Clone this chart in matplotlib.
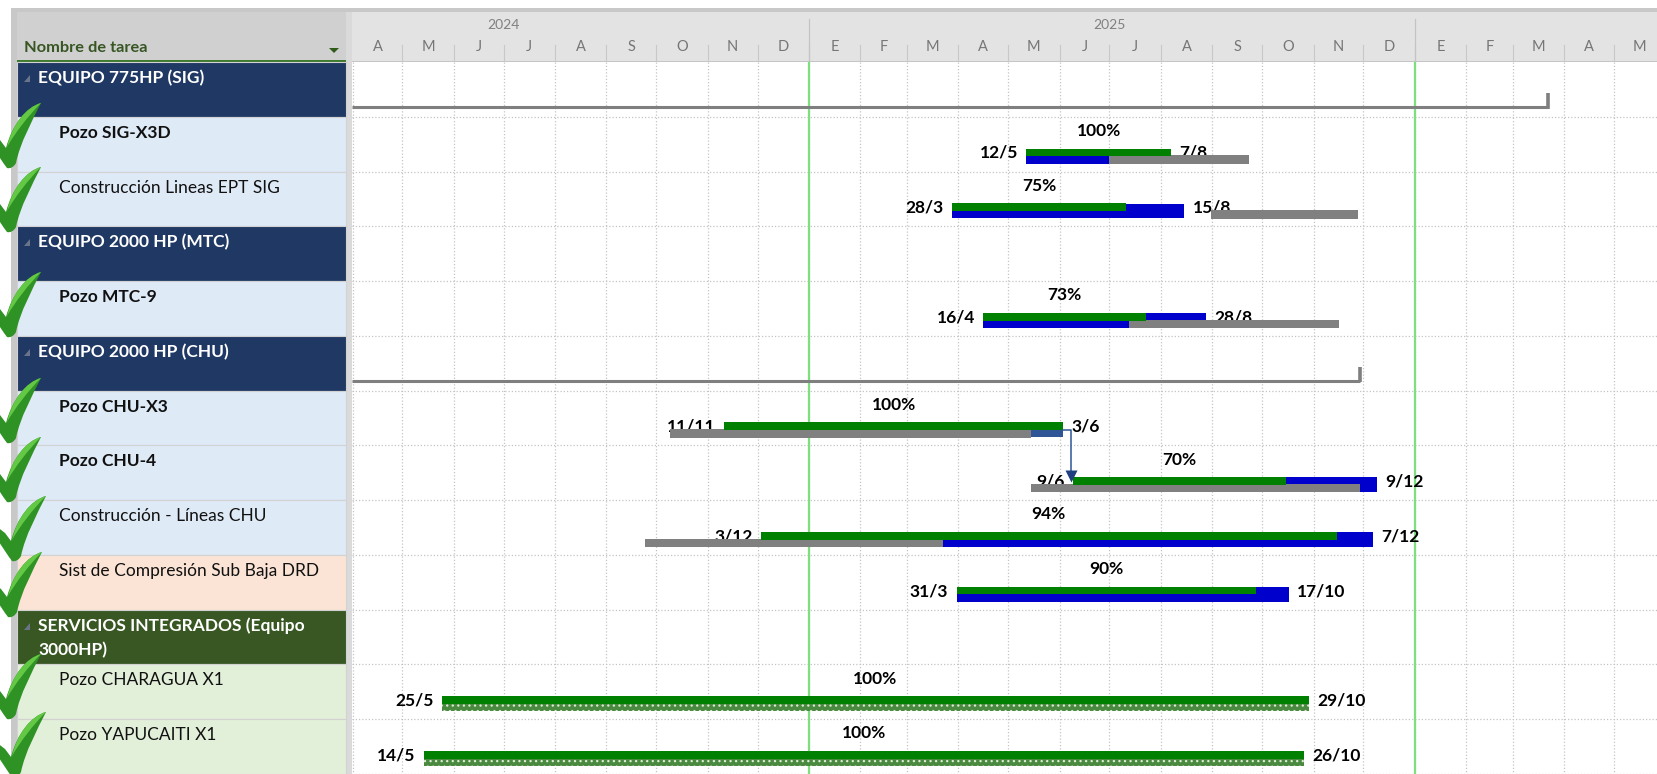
import pandas as pd
import matplotlib
matplotlib.use("Agg")
import matplotlib.pyplot as plt
import matplotlib.dates as mdates
from matplotlib.patches import PathPatch, Polygon, Rectangle
from matplotlib.path import Path

plt.rcParams['font.family'] = ['Lato', 'DejaVu Sans']
plt.rcParams['hatch.linewidth'] = 0.9

# table rows
row_names = ["EQUIPO 775HP (SIG)", "Pozo SIG-X3D", "Construcción Lineas EPT SIG",
             "EQUIPO 2000 HP (MTC)", "Pozo MTC-9", "EQUIPO 2000 HP (CHU)",
             "Pozo CHU-X3", "Pozo CHU-4", "Construcción - Líneas CHU",
             "Sist de Compresión Sub Baja DRD", "SERVICIOS INTEGRADOS (Equipo\n3000HP)",
             "Pozo CHARAGUA X1", "Pozo YAPUCAITI X1"]
row_colors = ["#1F3864", "#DEEAF6", "#DEEAF6", "#1F3864", "#DEEAF6", "#1F3864", "#DEEAF6",
              "#DEEAF6", "#DEEAF6", "#FBE4D5", "#385723", "#E2EFD9", "#E2EFD9"]
row_bold = [1, 1, 0, 1, 1, 1, 1, 1, 0, 0, 1, 0, 0]
row_group = [1, 0, 0, 1, 0, 1, 0, 0, 0, 0, 1, 0, 0]

# timeline header
month_letters = ["A", "M", "J", "J", "A", "S", "O", "N", "D", "E", "F", "M",
                 "A", "M", "J", "J", "A", "S", "O", "N", "D", "E", "F", "M", "A", "M"]
year_labels = ["2024", "2025"]
year_mid = ["2024-07-01", "2025-07-01"]
year_lines = ["2025-01-01", "2026-01-01"]

# tasks
task_rows = [1, 2, 4, 6, 7, 8, 9, 11, 12]
task_start = ["2025-05-12", "2025-03-28", "2025-04-16", "2024-11-11", "2025-06-09",
              "2024-12-03", "2025-03-31", "2024-05-25", "2024-05-14"]
task_end = ["2025-08-07", "2025-08-15", "2025-08-28", "2025-06-03", "2025-12-09",
            "2025-12-07", "2025-10-17", "2025-10-29", "2025-10-26"]
task_pct = [100, 75, 73, 100, 70, 94, 90, 100, 100]
start_text = ["12/5", "28/3", "16/4", "11/11", "9/6", "3/12", "31/3", "25/5", "14/5"]
end_text = ["7/8", "15/8", "28/8", "3/6", "9/12", "7/12", "17/10", "29/10", "26/10"]
task_colors = ["#0000CD", "#0000CD", "#0000CD", "#2F5597", "#0000CD", "#0000CD", "#0000CD",
               "#4A8A40", "#4A8A40"]
task_hatched = [0, 0, 0, 0, 0, 0, 0, 1, 1]

# baselines (gray)
base_rows = [1, 2, 4, 6, 7, 8]
base_start = ["2025-07-01", "2025-08-31", "2025-07-13", "2024-10-09", "2025-05-15", "2024-09-24"]
base_end = ["2025-09-23", "2025-11-28", "2025-11-16", "2025-05-15", "2025-11-29", "2025-03-23"]

# summary lines
summary_rows = [0, 5]
summary_end = ["2026-03-22", "2025-11-29"]

# check marks, top right tip in pixels
check_x = [41, 41, 41, 41, 41, 46, 42, 41, 46]
check_y = [103, 167, 272, 378, 437, 496, 552, 654, 712]

W, H = 1658, 774
LEFT, TOP = 352, 62
ROW_H = (H - TOP) / 13
fig = plt.figure(figsize=(W / 100, H / 100), dpi=100)
fig.patch.set_facecolor("white")


def num(values):
    return mdates.date2num(pd.to_datetime(values))


# overlay in pixels for the table and frame
bg = fig.add_axes([0, 0, 1, 1], zorder=1)
bg.set_xlim(0, W)
bg.set_ylim(H, 0)
bg.axis("off")
bg.add_patch(Rectangle((11, 8), W - 11, 4, fc="#C8C8C8", ec="none"))
bg.add_patch(Rectangle((11, 8), 6, H - 8, fc="#C8C8C8", ec="none"))
bg.add_patch(Rectangle((17, 12), 329, 50, fc="#D0D0D0", ec="none"))
bg.add_patch(Rectangle((346, 12), 6, H, fc="#DADADA", ec="none"))
bg.add_patch(Rectangle((17, 60), 329, 2.5, fc="#3E7B2C", ec="none"))
bg.text(24, 48, "Nombre de tarea", color="#375623", fontsize=11.8, fontweight="bold", va="center")
bg.add_patch(Polygon([[329, 48], [339, 48], [334, 53]], fc="#2F5A17", ec="none"))

for i in range(len(row_names)):
    y0 = TOP + i * ROW_H
    bg.add_patch(Rectangle((17, y0), 329, ROW_H, fc=row_colors[i], ec="#D2D2D2", lw=0.8))
    color = "white" if row_group[i] else "#111111"
    x = 38 if row_group[i] else 59
    bg.text(x, y0 + 8, row_names[i], color=color, fontsize=12.5,
            fontweight="bold" if row_bold[i] else "normal", va="top", linespacing=1.6)
    if row_group[i]:
        bg.add_patch(Polygon([[24, y0 + 20], [30, y0 + 20], [30, y0 + 13]], fc="#6A7488", ec="none"))

# gantt
ax = fig.add_axes([LEFT / W, 0, 1 - LEFT / W, (H - TOP) / H], zorder=2)
x0 = mdates.date2num(pd.Timestamp("2025-01-01")) - (809 - LEFT) / 1.66
x1 = x0 + (W - LEFT) / 1.66
ax.set_xlim(x0, x1)
ax.set_ylim(13, 0)
ax.axis("off")

months = pd.date_range("2024-04-01", periods=27, freq="MS")
month_nums = mdates.date2num(months)
ax.vlines(month_nums, 0, 13, color="#C4C4C4", lw=0.9, linestyles=(0, (1, 1.6)), zorder=1)
ax.hlines(range(1, 14), x0, x1, color="#C4C4C4", lw=0.9, linestyles=(0, (1, 1.6)), zorder=1)
for d in num(year_lines):
    ax.axvline(d, color="#7FDF7F", lw=1.6, zorder=1.5)

start = num(task_start)
end = num(task_end)
progress_end = [s + (e - s) * p / 100 for s, e, p in zip(start, end, task_pct)]

for i in range(len(task_rows)):
    y = task_rows[i] + 0.72
    if task_hatched[i]:
        ax.barh(y, end[i] - start[i], 0.27, left=start[i], color=task_colors[i],
                hatch="...", edgecolor="#DCEAD4", lw=0, zorder=2)
    else:
        ax.barh(y, end[i] - start[i], 0.27, left=start[i], color=task_colors[i], zorder=2)
    ax.barh(task_rows[i] + 0.65, progress_end[i] - start[i], 0.14, left=start[i], color="#008000", zorder=5)
    ax.annotate(start_text[i], (start[i], task_rows[i] + 0.66), xytext=(-6, 0), textcoords="offset points",
                ha="right", va="center", fontsize=12.5, fontweight="bold", color="#000000", zorder=3)
    ax.annotate(end_text[i], (end[i], task_rows[i] + 0.66), xytext=(6, 0), textcoords="offset points",
                ha="left", va="center", fontsize=12.5, fontweight="bold", color="#000000", zorder=3)
    ax.text((start[i] + progress_end[i]) / 2, task_rows[i] + 0.26, str(task_pct[i]) + "%", ha="center",
            va="center", fontsize=12.5, fontweight="bold", color="#000000", zorder=3)

b_start = num(base_start)
b_end = num(base_end)
for i in range(len(base_rows)):
    ax.barh(base_rows[i] + 0.78, b_end[i] - b_start[i], 0.155, left=b_start[i], color="#808080", zorder=4)

for r, e in zip(summary_rows, num(summary_end)):
    ax.plot([x0, e], [r + 0.825, r + 0.825], color="#7F7F7F", lw=2.2, solid_capstyle="butt", zorder=3)
    ax.plot([e, e], [r + 0.57, r + 0.85], color="#7F7F7F", lw=2.6, solid_capstyle="butt", zorder=3)

# link between CHU-X3 and CHU-4
link_x = start[4] - 1
ax.plot([end[3], link_x, link_x], [6.71, 6.71, 7.5], color="#2F5597", lw=1.1, zorder=6)
ax.plot([link_x], [7.55], marker="v", ms=8, color="#1F3F80", mec="none", zorder=6)

# header of the timeline
head = fig.add_axes([LEFT / W, (H - TOP) / H, 1 - LEFT / W, 50 / H], zorder=2)
head.set_xlim(x0, x1)
head.set_ylim(50, 0)
head.set_facecolor("#E3E3E3")
for s in head.spines.values():
    s.set_visible(False)
head.set_xticks([])
head.set_yticks([])
head.axhline(49.5, color="#C0C0C0", lw=1.2)
for i in range(len(month_letters)):
    head.text((month_nums[i] + month_nums[i + 1]) / 2, 35, month_letters[i], ha="center", va="center",
              fontsize=10.5, color="#767676", clip_on=True)
for d in month_nums[1:-1]:
    head.plot([d, d], [33, 50], color="#C8C8C8", lw=0.8)
for d in num(year_lines):
    head.plot([d, d], [7, 50], color="#C4C4C4", lw=0.9)
for lab, d in zip(year_labels, num(year_mid)):
    head.text(d, 13, lab, ha="center", va="center", fontsize=10, color="#808080")

# check marks on top of everything
top = fig.add_axes([0, 0, 1, 1], zorder=3)
top.set_xlim(0, W)
top.set_ylim(H, 0)
top.axis("off")
top.patch.set_alpha(0)

main_v = [(0, 0), (-15, 4), (-29, 22), (-35, 45), (-41, 37), (-50, 30), (-50, 42), (-44, 50), (-38, 60),
          (-34, 65), (-31, 66), (-27, 64), (-25, 60), (-21, 40), (-9, 18), (0, 0)]
main_c = [Path.MOVETO, Path.CURVE4, Path.CURVE4, Path.CURVE4, Path.LINETO, Path.LINETO, Path.LINETO,
          Path.CURVE4, Path.CURVE4, Path.CURVE4, Path.CURVE4, Path.CURVE4, Path.CURVE4,
          Path.CURVE4, Path.CURVE4, Path.CURVE4]
light_v = [(0, 0), (-15, 4), (-29, 22), (-34, 44), (-26, 30), (-13, 13), (0, 0)]
light_c = [Path.MOVETO, Path.CURVE4, Path.CURVE4, Path.CURVE4, Path.CURVE4, Path.CURVE4, Path.CURVE4]
for cx, cy in zip(check_x, check_y):
    top.add_patch(PathPatch(Path([(cx + a, cy + b) for a, b in main_v], main_c), fc="#2F9225", ec="none"))
    top.add_patch(PathPatch(Path([(cx + a, cy + b) for a, b in light_v], light_c), fc="#63C945", ec="none"))

fig.savefig("out.png", dpi=100)
